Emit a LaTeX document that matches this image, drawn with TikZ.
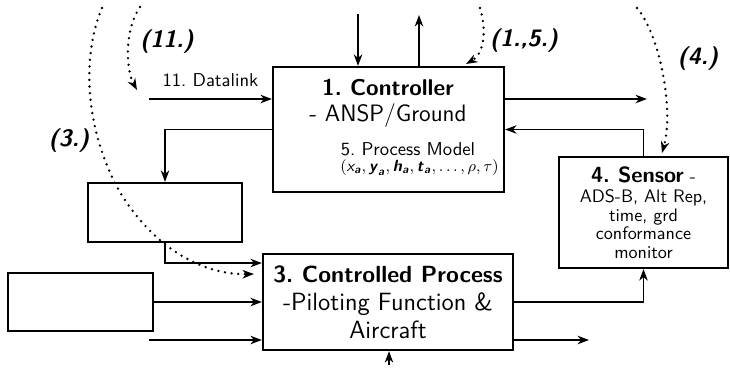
\documentclass[tikz,border=0pt]{standalone}
\usepackage{amsmath}
\usepackage{tikz}
\usetikzlibrary{arrows.meta, positioning, calc}
\tikzstyle{block} = [rectangle, draw, line width=1.3pt, align=center, inner sep=0pt, font=\sffamily]
\tikzstyle{line} = [draw, -{Stealth[length=6.5pt, width=4.8pt, inset=2pt]}, line width=1pt]
\tikzstyle{dotline} = [draw, -{Stealth[length=6.5pt, width=4.8pt, inset=2pt]}, line width=1.5pt, line cap=round, dash pattern=on 0pt off 3.8pt]
\tikzstyle{looplabel} = [font=\sffamily\bfseries\slshape\fontsize{13.5}{15}\selectfont]
\tikzstyle{boxtext} = [font=\sffamily, inner sep=0pt]
\newcommand{\bsl}[1]{\textbf{\textit{#1}}}

\begin{document}
\begin{tikzpicture}[x=0.02cm, y=-0.02cm]
        \useasboundingbox (0,0) rectangle (730,373);
        % Nodes
        \node [block, minimum width=4.62cm, minimum height=2.5cm] (ctrl) at (388.5,129.5) {};
        \node [block, minimum width=3.08cm, minimum height=1.18cm] (upbox) at (165,212.5) {};
        \node [block, minimum width=2.9cm, minimum height=1.16cm] (lowbox) at (80.5,302) {};
        \node [block, minimum width=5cm, minimum height=1.92cm, font=\sffamily\fontsize{14.2}{16}\selectfont] (proc) at (388,302)
            {{\fontsize{13.3}{16}\selectfont\bfseries 3.\ Controlled Process}\\-Piloting Function \&\\Aircraft};
        \node [block, minimum width=3.38cm, minimum height=2.22cm, font=\sffamily\fontsize{10.3}{10.5}\selectfont] (sensor) at (643.5,212.5)
            {{\fontsize{12.5}{13}\selectfont\textbf{4.\ Sensor}} -\\[1pt]ADS-B, Alt Rep,\\time, grd\\conformance\\monitor};

        % Controller text
        \node [boxtext, font=\sffamily\bfseries\fontsize{13}{15}\selectfont] (ctrltitle) at (388,87) {1.\ Controller};
        \node [boxtext, font=\sffamily\fontsize{13.5}{15}\selectfont] (ctrlsub) at (388,116) {- ANSP/Ground};
        \node [boxtext, font=\sffamily\fontsize{10.6}{12}\selectfont] (pmodel) at (408,149) {5.\ Process Model};
        \node [boxtext, anchor=west, font=\sffamily\fontsize{9.2}{10}\selectfont] (pvars) at (340,168)
            {$(\textit{x}_{\bsl{a}}, \bsl{y}_{\bsl{a}}, \bsl{h}_{\bsl{a}}, \bsl{t}_{\bsl{a}},\ldots,\rho,\tau)$};

        % Free ends
        \coordinate (topin) at (358,14);
        \coordinate (topout) at (419,15);
        \coordinate (dlin) at (149,99);
        \coordinate (ctrlout) at (647,99);
        \coordinate (procin) at (149,340);
        \coordinate (procout) at (589,340);
        \coordinate (botin) at (389,365);

        % Paths
        \draw [line] (topin) -- (topin |- ctrl.north);
        \draw [line] (topout |- ctrl.north) -- (topout);
        \draw [line] (dlin) -- node [above=3pt, font=\sffamily\fontsize{10.6}{12}\selectfont] (dllabel) {11.\ Datalink} (dlin -| ctrl.west);
        \draw [line] (ctrlout -| ctrl.east) -- (ctrlout);
        \draw [line] (sensor.north) |- (ctrl.east);
        \draw [line] (ctrl.west) -| (upbox.north);
        \draw [line] (upbox.south) |- ($(proc.west)+(0,-39)$);
        \draw [line] (lowbox.east) -- (proc.west);
        \draw [line] (procin) -- (procin -| proc.west);
        \draw [line] (proc.east) -| (sensor.south);
        \draw [line] (procout -| proc.east) -- (procout);
        \draw [line] (botin) -- (botin |- proc.south);

        % Loops
        \coordinate (c11s) at (140,7);
        \coordinate (c11e) at (137,90);
        \coordinate (c3s) at (102,8);
        \coordinate (c3e) at (254,274);
        \coordinate (c15s) at (480,8);
        \coordinate (c15e) at (466,64);
        \coordinate (c4s) at (637,8);
        \coordinate (c4e) at (662,153);
        \draw [dotline] (c11s) .. controls (124,30) and (126,70) .. (c11e);
        \draw [dotline] (c3s) .. controls (84,50) and (82,120) .. (117,187) .. controls (150,245) and (200,275) .. (c3e);
        \draw [dotline] (c15s) .. controls (488,35) and (482,55) .. (c15e);
        \draw [dotline] (c4s) .. controls (660,35) and (674,110) .. (c4e);

        % Labels
        \node [looplabel] (l11) at (167,42) {(11.)};
        \node [looplabel] (l3) at (69,141) {(3.)};
        \node [looplabel] (l15) at (524,41) {(1.,5.)};
        \node [looplabel] (l4) at (698,59) {(4.)};
    \end{tikzpicture}
\end{document}
